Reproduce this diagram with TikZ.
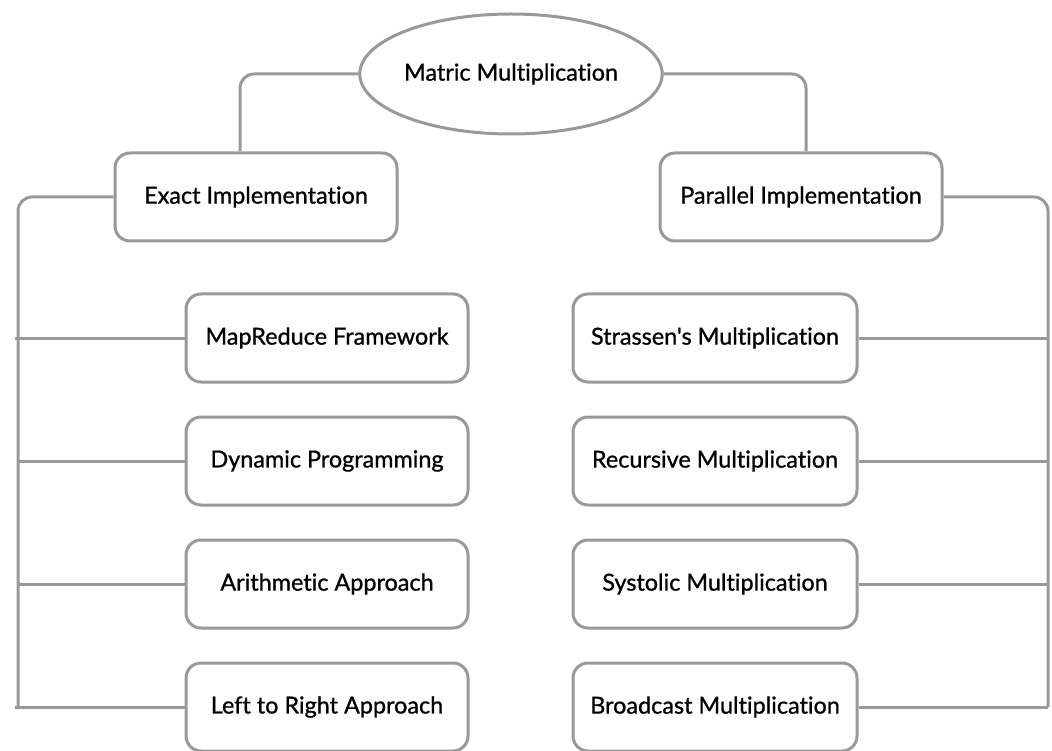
\documentclass[tikz,border=0pt]{standalone}
\usepackage{fontspec}
\setmainfont{Lato}[Ligatures=CommonOff]
\newfontfamily\boxfont{Lato}[Ligatures=CommonOff,FakeBold=0.9]
\usepackage{tikz}
\usetikzlibrary{shapes.geometric,positioning}
\definecolor{linegray}{HTML}{999999}

\begin{document}
\begin{tikzpicture}[x=1pt,y=-1pt,
    box/.style={draw=linegray, line width=3pt, rounded corners=15pt, fill=white,
      minimum width=282pt, minimum height=88pt, font=\boxfont\fontsize{23.4}{27}\selectfont},
    root/.style={ellipse, draw=linegray, line width=3pt, fill=white, inner sep=0pt,
      minimum width=297pt, minimum height=120pt, font=\boxfont\fontsize{23.4}{27}\selectfont},
    conn/.style={draw=linegray, line width=3pt, rounded corners=14pt}]

  \useasboundingbox (0,0) rectangle (1052,751);

  \node[root] (mm) at (511,74) {Matric Multiplication};

  \node[box] (exact) at (256,197) {Exact Implementation};
  \node[box] (par)   at (801,197) {Parallel Implementation};

  %% left column
  \node[box] (map)   at (327,338) {MapReduce Framework};
  \node[box] (dyn)   at (327,461) {Dynamic Programming};
  \node[box] (arith) at (327,584) {Arithmetic Approach};
  \node[box] (ltr)   at (327,707) {Left to Right Approach};

  %% right column
  \node[box, minimum width=284pt] (stras) at (715,338) {Strassen's Multiplication};
  \node[box, minimum width=284pt] (rec)   at (715,461) {Recursive Multiplication};
  \node[box, minimum width=284pt] (sys)   at (715,584) {Systolic Multiplication};
  \node[box, minimum width=284pt] (bcast) at (715,707) {Broadcast Multiplication};

  \coordinate (lend) at (18,707);
  \coordinate (rend) at (1048,707);

  \draw[conn] (mm.west) -| ([xshift=-16pt]exact.north); %% root -> exact
  \draw[conn] (mm.east) -| ([xshift=5pt]par.north);     %% root -> parallel

  \draw[conn] (exact.west) -| (lend);
  \draw[conn] (par.east) -| (rend);

  \draw[conn] (map.west)   -- ([xshift=-3pt]map.west -| lend);
  \draw[conn] (dyn.west)   -- (dyn.west -| lend);
  \draw[conn] (arith.west) -- (arith.west -| lend);
  \draw[conn] (ltr.west)   -- ([xshift=-3pt]lend);

  \draw[conn] (stras.east) -- (stras.east -| rend);
  \draw[conn] (rec.east)   -- (rec.east -| rend);
  \draw[conn] (sys.east)   -- (sys.east -| rend);
  \draw[conn] (bcast.east) -- (rend);

\end{tikzpicture}
\end{document}
